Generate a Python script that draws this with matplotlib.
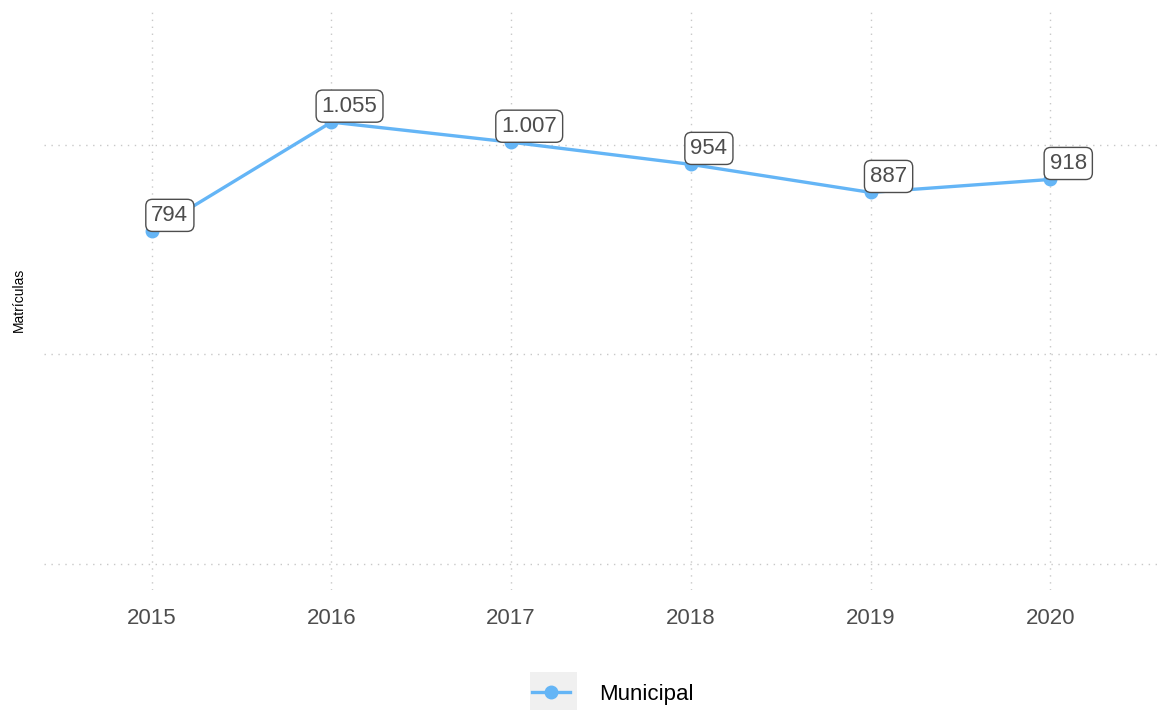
import numpy as np
import matplotlib.pyplot as plt
from matplotlib.lines import Line2D
from matplotlib.patches import Rectangle

plt.rcParams['font.family'] = ['Liberation Sans', 'DejaVu Sans']

anos = [2015, 2016, 2017, 2018, 2019, 2020]
matriculas = [794, 1055, 1007, 954, 887, 918]
serie = 'Municipal'

azul = '#64B5F6'
cinza = '#4D4D4D'

fig = plt.figure(figsize=(11.58, 7.10), dpi=100)
ax = fig.add_axes([0.038, 0.169, 0.962, 0.817])

ax.plot(anos, matriculas, color=azul, lw=2.4, marker='o', ms=9, zorder=3)

# rotulos com separador de milhar em ponto
for x, y in zip(anos, matriculas):
    txt = f'{y:,}'.replace(',', '.')
    ax.annotate(txt, (x, y), xytext=(13, 11.5), textcoords='offset points',
                ha='center', va='center', fontsize=16, color=cinza, zorder=4,
                bbox=dict(boxstyle='round,pad=0.25,rounding_size=0.3',
                          fc='white', ec=cinza, lw=1))

ax.set_xlim(2014.4, 2020.6)
ax.set_ylim(-63, 1323)
ax.set_xticks(anos)
ax.set_xticklabels([str(a) for a in anos])
ax.set_yticks([0, 500, 1000])
ax.set_yticklabels([])
ax.tick_params(axis='both', length=0)
ax.tick_params(axis='x', labelsize=16, labelcolor=cinza, pad=13)
ax.grid(True, color='#C8C8C8', ls=(0, (1, 4)), lw=1)
for s in ax.spines.values():
    s.set_visible(False)

fig.text(0.016, 0.577, 'Matrículas', rotation=90, fontsize=10,
         ha='center', va='center', color='black')

# fundo cinza da chave da legenda
fig.patches.append(Rectangle((0.4577, 0.0), 0.0406, 0.0535,
                             transform=fig.transFigure, fc='#F0F0F0',
                             ec='none', zorder=0))
handle = Line2D([], [], color=azul, lw=2.4, marker='o', ms=9)
leg = fig.legend([handle], [serie], loc='center', bbox_to_anchor=(0.529, 0.022),
                 frameon=False, fontsize=16, handlelength=1.7, handletextpad=1.3)

fig.savefig('out.png', dpi=100)
